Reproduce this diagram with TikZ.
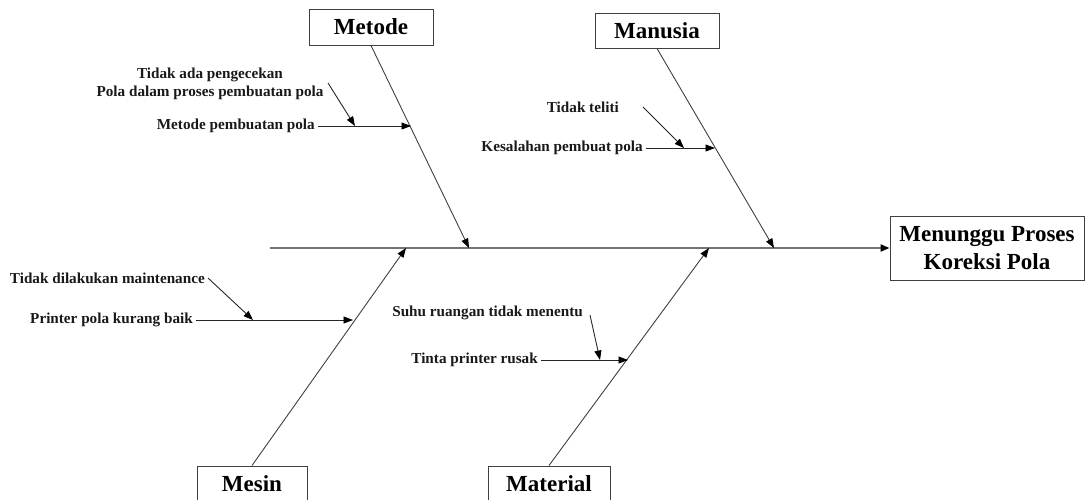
\documentclass[tikz,border=0pt]{standalone}
\usepackage{fontspec}
\setmainfont{Liberation Serif}
\usetikzlibrary{arrows.meta}
\begin{document}
\begin{tikzpicture}[x=1pt,y=-1pt,
  tip/.style={-{Triangle[length=9.5pt,width=7pt,color=black]}},
  bone/.style={draw=black!75, line width=0.9pt, tip},
  spine/.style={draw=black!55, line width=2pt, -{Triangle[length=9pt,width=7pt,color=black]}},
  twig/.style={draw=black!85, line width=0.9pt, tip},
  catbox/.style={draw=black!75, line width=1pt, fill=white, inner sep=0pt,
    font=\fontsize{23}{26}\selectfont\bfseries},
  cause/.style={inner xsep=3pt, inner ysep=0pt, anchor=east,
    font=\fontsize{15.2}{18}\selectfont\bfseries, text=black!90}]
\useasboundingbox (0,0) rectangle (1085,499);
\begin{scope}
\clip (0,0) rectangle (1085,499);

% effect box and spine
\node[catbox, minimum width=194pt, minimum height=64pt, align=center,
      font=\fontsize{23}{28}\selectfont\bfseries] (effect) at (987,248)
  {Menunggu Proses\\Koreksi Pola};
\coordinate (tail) at (270,248);
\draw[spine] (tail) -- (effect.west);

% category boxes
\node[catbox, minimum width=124pt, minimum height=36pt] (metode) at (371,27) {Metode};
\node[catbox, minimum width=124pt, minimum height=35pt] (manusia) at (657,30.5) {Manusia};
\node[catbox, minimum width=110pt, minimum height=36pt] (mesin) at (252,484) {Mesin};
\node[catbox, minimum width=122pt, minimum height=36pt] (material) at (549,484) {Material};

% bone ends on the spine
\coordinate (tMetode) at (469,248);
\coordinate (tManusia) at (774,248);
\coordinate (tMesin) at (406,248);
\coordinate (tMaterial) at (709,248);

\draw[bone] (metode.south) -- (tMetode);
\draw[bone] (manusia.south) -- (tManusia);
\draw[bone] (mesin.north) -- (tMesin);
\draw[bone] (material.north) -- (tMaterial);

% Metode causes
\node[cause, anchor=center, align=center, font=\fontsize{15.2}{17.5}\selectfont\bfseries] (c1a) at (210,84)
  {Tidak ada pengecekan\\Pola dalam proses pembuatan pola};
\node[cause] (c1) at (318,126) {Metode pembuatan pola};
\coordinate (b1) at (411,126);
\coordinate (s1) at (328,83);
\coordinate (e1) at (355,126);
\draw[twig] (c1.east) -- (b1);
\draw[twig] (s1) -- (e1);

% Manusia causes
\node[cause] (c2a) at (622,107) {Tidak teliti};
\node[cause] (c2) at (646,148) {Kesalahan pembuat pola};
\coordinate (b2) at (715,148);
\coordinate (s2) at (643,107);
\coordinate (e2) at (684,148);
\draw[twig] (c2.east) -- (b2);
\draw[twig] (s2) -- (e2);

% Mesin causes
\node[cause] (c3a) at (208,278) {Tidak dilakukan maintenance};
\node[cause] (c3) at (196,320) {Printer pola kurang baik};
\coordinate (b3) at (353,320);
\coordinate (e3) at (253,320);
\draw[twig] (c3.east) -- (b3);
\draw[twig] (c3a.east) -- (e3);

% Material causes
\node[cause] (c4a) at (586,313) {Suhu ruangan tidak menentu};
\node[cause] (c4) at (541,360) {Tinta printer rusak};
\coordinate (b4) at (628,360);
\coordinate (s4) at (590,315);
\coordinate (e4) at (600,360);
\draw[twig] (c4.east) -- (b4);
\draw[twig] (s4) -- (e4);
\end{scope}
\end{tikzpicture}
\end{document}
